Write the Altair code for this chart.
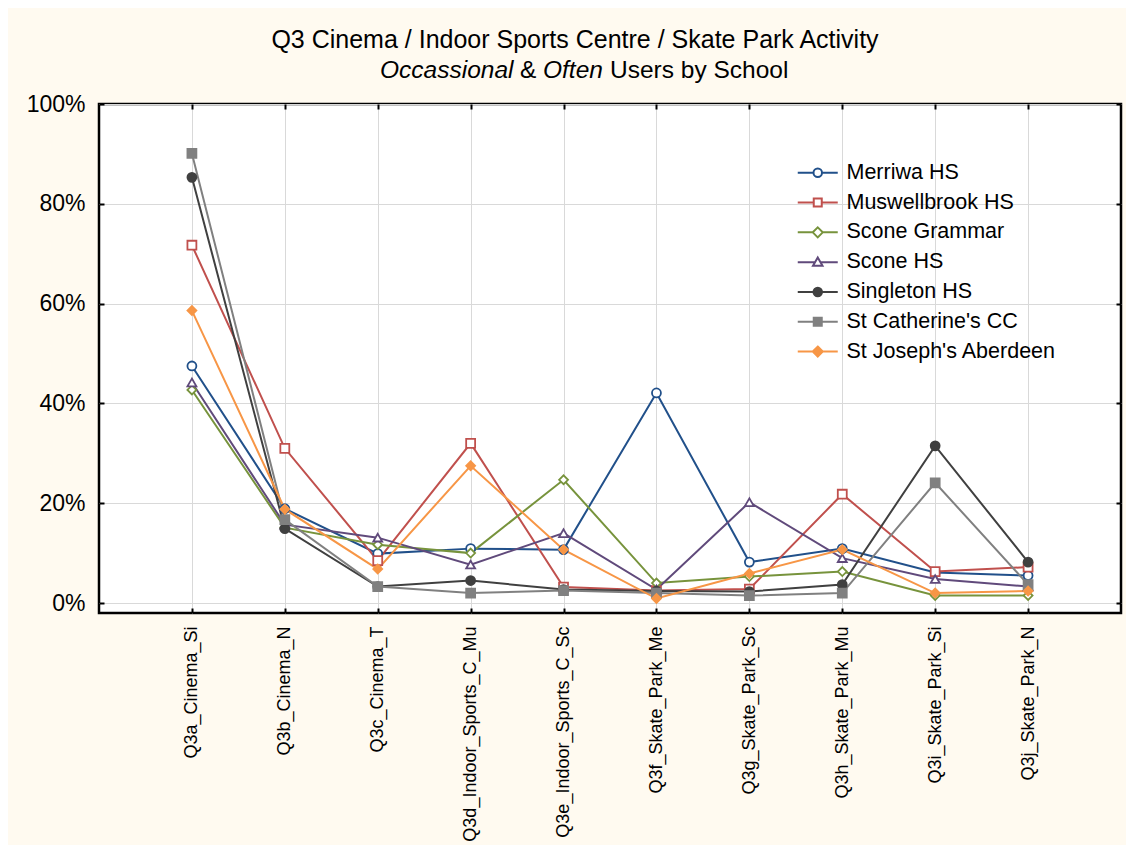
import altair as alt
import pandas as pd

categories = [
    "Q3a_Cinema_Si", "Q3b_Cinema_N", "Q3c_Cinema_T", "Q3d_Indoor_Sports_C_Mu",
    "Q3e_Indoor_Sports_C_Sc", "Q3f_Skate_Park_Me", "Q3g_Skate_Park_Sc",
    "Q3h_Skate_Park_Mu", "Q3i_Skate_Park_Si", "Q3j_Skate_Park_N",
]
schools = [
    "Merriwa HS", "Muswellbrook HS", "Scone Grammar", "Scone HS",
    "Singleton HS", "St Catherine's CC", "St Joseph's Aberdeen",
]

# percentages
merriwa = [47.5, 18.9, 9.9, 10.9, 10.7, 42.1, 8.2, 10.9, 6.1, 5.5]
muswellbrook = [71.7, 31.0, 8.5, 32.0, 3.2, 2.5, 2.8, 21.8, 6.3, 7.2]
scone_grammar = [42.7, 15.1, 11.7, 10.0, 24.7, 4.0, 5.3, 6.3, 1.5, 1.5]
scone_hs = [44.2, 15.7, 13.1, 7.7, 14.0, 2.7, 20.2, 9.0, 4.8, 3.3]
singleton = [85.3, 14.9, 3.3, 4.5, 2.7, 2.4, 2.3, 3.7, 31.5, 8.2]
st_catherines = [90.1, 16.7, 3.3, 2.0, 2.5, 2.0, 1.5, 2.0, 24.1, 3.7]
st_josephs = [58.6, 18.8, 6.8, 27.5, 10.7, 0.9, 5.9, 10.7, 2.0, 2.4]

y_ticks = [0, 0.2, 0.4, 0.6, 0.8, 1.0]

title_line1 = "Q3 Cinema / Indoor Sports Centre / Skate Park Activity"

colors = ["#21508A", "#C0504D", "#77933C", "#604A7B", "#404040", "#808080", "#F79646"]
fills = ["white", "white", "white", "white", "#404040", "#808080", "#F79646"]
marker_shapes = ["circle", "square", "diamond", "triangle-up", "circle", "square", "diamond"]

_circle = "M-4,0L-0.85,0M0.85,0L4,0M-0.85,0A0.85,0.85,0,1,1,0.85,0A0.85,0.85,0,1,1,-0.85,0Z"
_square = "M-4,0L-0.8,0M0.8,0L4,0M-0.8,-0.8L0.8,-0.8L0.8,0.8L-0.8,0.8Z"
_diamond = "M-4,0L-1,0M1,0L4,0M0,-1L1,0L0,1L-1,0Z"
_triangle = "M-4,0L-0.55,0M0.55,0L4,0M0,-0.95L0.95,0.7L-0.95,0.7Z"
legend_shapes = [_circle, _square, _diamond, _triangle, _circle, _square, _diamond]

series = [merriwa, muswellbrook, scone_grammar, scone_hs, singleton, st_catherines, st_josephs]
rows = []
for school, vals in zip(schools, series):
    for item, v in zip(categories, vals):
        rows.append({"Item": item, "School": school, "Value": v / 100.0})
df = pd.DataFrame(rows)

FONT = "Liberation Sans, Arial, Helvetica, sans-serif"
GRID = "#D9D9D9"

x_scale = alt.Scale(type="point", domain=categories, padding=1)
y_scale = alt.Scale(domain=[-0.02, 1.0], nice=False, zero=False)


def tick_axis(orient, values=None):
    kw = dict(orient=orient, labels=False, domain=False, grid=False, ticks=True,
              tickSize=5, tickWidth=2, tickColor="black", offset=-5, title=None)
    if values is not None:
        kw["values"] = values
    return alt.Axis(**kw)


base = alt.Chart(df)

lines = base.mark_line(strokeWidth=2).encode(
    x=alt.X("Item:N", scale=x_scale, sort=categories, title=None,
            axis=alt.Axis(orient="bottom", labelAngle=270, labelFont=FONT, labelFontSize=18,
                          labelColor="black", labelPadding=13, labelLimit=400, ticks=False,
                          domain=False, grid=True, gridColor=GRID, gridWidth=1, title=None)),
    y=alt.Y("Value:Q", scale=y_scale, title=None,
            axis=alt.Axis(orient="left", values=y_ticks, format=".0%", labelFont=FONT,
                          labelFontSize=23, labelColor="black", labelPadding=14, ticks=False,
                          domain=False, grid=True, gridColor=GRID, gridWidth=1, title=None)),
    color=alt.Color("School:N", scale=alt.Scale(domain=schools, range=colors), legend=None),
)

points = base.mark_point(size=80, strokeWidth=1.8, opacity=1).encode(
    x=alt.X("Item:N", scale=x_scale, sort=categories, axis=tick_axis("bottom")),
    y=alt.Y("Value:Q", scale=y_scale, axis=tick_axis("left", y_ticks)),
    stroke=alt.Stroke("School:N", scale=alt.Scale(domain=schools, range=colors), legend=None),
    fill=alt.Fill("School:N", scale=alt.Scale(domain=schools, range=fills), legend=None),
    shape=alt.Shape("School:N", scale=alt.Scale(domain=schools, range=marker_shapes), legend=None),
)

leg = alt.Legend(orient="none", legendX=708, legendY=58, title=None, labelFont=FONT,
                 labelFontSize=21.5, labelColor="black", labelLimit=400, symbolSize=100,
                 symbolStrokeWidth=2, symbolOpacity=1, symbolFillColor="white",
                 symbolStrokeColor="black", labelOffset=18, rowPadding=6.8, padding=0)

legend_layer = base.mark_point(opacity=0, strokeWidth=2).encode(
    x=alt.X("Item:N", scale=x_scale, sort=categories, axis=tick_axis("top")),
    y=alt.Y("Value:Q", scale=y_scale, axis=tick_axis("right", y_ticks)),
    stroke=alt.Stroke("School:N", scale=alt.Scale(domain=schools, range=colors), legend=leg),
    fill=alt.Fill("School:N", scale=alt.Scale(domain=schools, range=fills), legend=leg),
    shape=alt.Shape("School:N", scale=alt.Scale(domain=schools, range=legend_shapes), legend=leg),
)

one = alt.Data(values=[{"k": 1}])


def piece(txt, xpos, ypos, italic, size=24.5, align="left"):
    return alt.Chart(one).mark_text(
        text=txt, font=FONT, fontSize=size, align=align, baseline="middle",
        fontStyle="italic" if italic else "normal", color="black",
    ).encode(x=alt.value(xpos), y=alt.value(ypos))


titles = [
    piece(title_line1, 476, -64, False, size=25, align="center"),
    piece("Occassional", 281, -33, True),
    piece("&", 421, -33, False),
    piece("Often", 444, -33, True),
    piece("Users by School", 511, -33, False),
]

chart = alt.layer(lines, points, legend_layer, *titles).resolve_scale(
    color="independent", stroke="independent", fill="independent", shape="independent"
).resolve_axis(x="independent", y="independent").properties(
    width=1022, height=509,
    padding={"left": 91, "top": 96, "right": 5, "bottom": 232},
    autosize=alt.AutoSizeParams(type="none"),
    background="#FFFAF0",
).configure_view(fill="white", stroke="black", strokeWidth=2.5)

chart.save("out.html", embed_options={"renderer": "svg", "actions": False})
